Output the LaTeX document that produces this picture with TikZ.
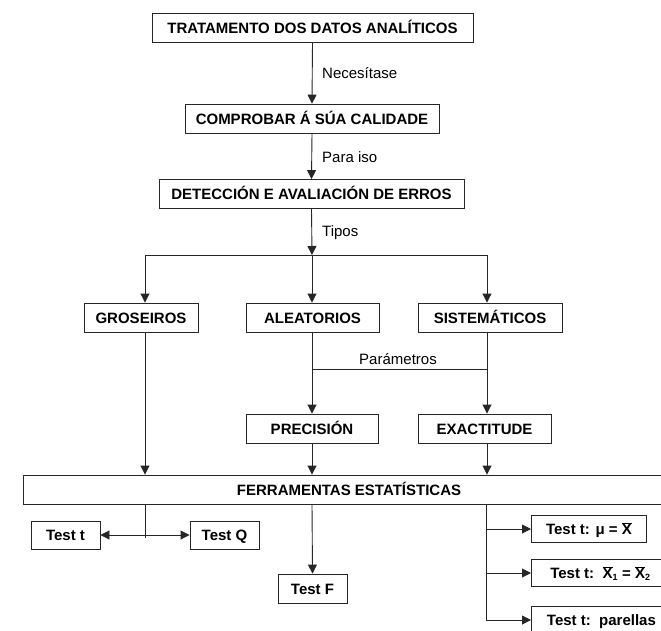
\documentclass[tikz,border=0pt]{standalone}
\usepackage{fontspec}
\setmainfont{Liberation Sans}
\usetikzlibrary{arrows.meta}

\tikzset{
  caixa/.style={draw=black!85, line width=0.9pt, font=\fontsize{15}{17}\selectfont\bfseries,
    inner sep=0pt, minimum height=29pt, text height=11pt, text depth=0pt},
  probabox/.style={caixa, minimum height=27pt, anchor=west},
  linha/.style={draw=black!85, line width=0.9pt},
  frecha/.style={linha, -{Triangle[length=9pt,width=9pt]}},
  dobrefrecha/.style={linha, {Triangle[length=9pt,width=9pt]}-{Triangle[length=9pt,width=9pt]}},
  etiqueta/.style={anchor=west, inner sep=0pt}
}

\begin{document}
\begin{tikzpicture}[x=1pt, y=-1pt, font=\fontsize{15}{17}\selectfont]
  \useasboundingbox (0,0) rectangle (661,630);
  \clip (0,0) rectangle (661,630);

  % upper chain
  \node[caixa, minimum width=321pt] (tratamento) at (312.5,27.5) {TRATAMENTO DOS DATOS ANALÍTICOS};
  \node[caixa, minimum width=254pt] (comprobar) at (312,118.5) {COMPROBAR Á SÚA CALIDADE};
  \node[caixa, minimum width=305pt] (deteccion) at (311.5,194) {DETECCIÓN E AVALIACIÓN DE ERROS};

  \node[etiqueta] (necesitase) at (322,73) {Necesítase};
  \node[etiqueta] (paraiso) at (322,157) {Para iso};
  \node[etiqueta] (tipos) at (322,233) {Tipos};

  \draw[frecha] (tratamento.south) -- (comprobar.north);
  \draw[frecha] (comprobar.south) -- (deteccion.north);

  % types of errors
  \node[caixa, minimum width=114pt] (groseiros) at (141,317.5) {GROSEIROS};
  \node[caixa, minimum width=133pt] (aleatorios) at (312.5,317.5) {ALEATORIOS};
  \node[caixa, minimum width=144pt] (sistematicos) at (490,317.5) {SISTEMÁTICOS};

  \coordinate (xunta) at (312,255);
  \coordinate (g) at (145,255);
  \coordinate (s) at (487,255);
  \coordinate (param) at (0,369);

  \draw[frecha] (deteccion.south) -- (xunta);
  \draw[linha] (g) -- (s);
  \draw[frecha] (g) -- (g |- groseiros.north);
  \draw[frecha] (xunta) -- (xunta |- aleatorios.north);
  \draw[frecha] (s) -- (s |- sistematicos.north);

  % parameters
  \node[caixa, minimum width=132pt] (precision) at (312,428.5) {PRECISIÓN};
  \node[caixa, minimum width=133pt] (exactitude) at (484.5,428.5) {EXACTITUDE};
  \node (parametros) at (398,359) {Parámetros};

  \draw[linha] (xunta |- aleatorios.south) -- (xunta |- param) -- (s |- param) -- (s |- sistematicos.south);
  \draw[frecha] (xunta |- param) -- (xunta |- precision.north);
  \draw[frecha] (s |- param) -- (s |- exactitude.north);

  % statistical tools
  \node[caixa, minimum width=652pt] (ferramentas) at (349,489.5) {FERRAMENTAS ESTATÍSTICAS};

  \draw[frecha] (g |- groseiros.south) -- (g |- ferramentas.north);
  \draw[frecha] (xunta |- precision.south) -- (xunta |- ferramentas.north);
  \draw[frecha] (s |- exactitude.south) -- (s |- ferramentas.north);

  % tests
  \node[caixa, minimum width=69pt, minimum height=28pt] (testt) at (65.5,535) {Test t};
  \node[caixa, minimum width=69pt, minimum height=28pt] (testq) at (224.5,535) {Test Q};
  \node[caixa, minimum width=69pt] (testf) at (312.5,588.5) {Test F};

  \coordinate (esq) at (145,538);
  \draw[linha] (g |- ferramentas.south) -- (esq);
  \draw[dobrefrecha] (testt) -- (testq);
  \draw[frecha] (xunta |- ferramentas.south) -- (testf.north);

  \node[probabox, minimum width=115pt] (testmu) at (531,529) {Test t: μ = $\overline{\hbox{X}}$};
  \node[probabox, minimum width=138pt] (testx) at (531,573) {Test t:\ \ $\overline{\hbox{X}}_{\hbox{\fontsize{9}{9}\selectfont\bfseries 1}}$ = $\overline{\hbox{X}}_{\hbox{\fontsize{9}{9}\selectfont\bfseries 2}}$};
  \node[probabox, minimum width=140pt] (testpar) at (531,620) {Test t:\ \ parellas};

  \coordinate (ramal) at (486,0);
  \draw[linha] (ferramentas.south -| ramal) -- (ramal |- testpar.west);
  \foreach \t in {testmu,testx,testpar} {
    \draw[frecha] (ramal |- \t.west) -- (\t.west);
  }
\end{tikzpicture}
\end{document}
